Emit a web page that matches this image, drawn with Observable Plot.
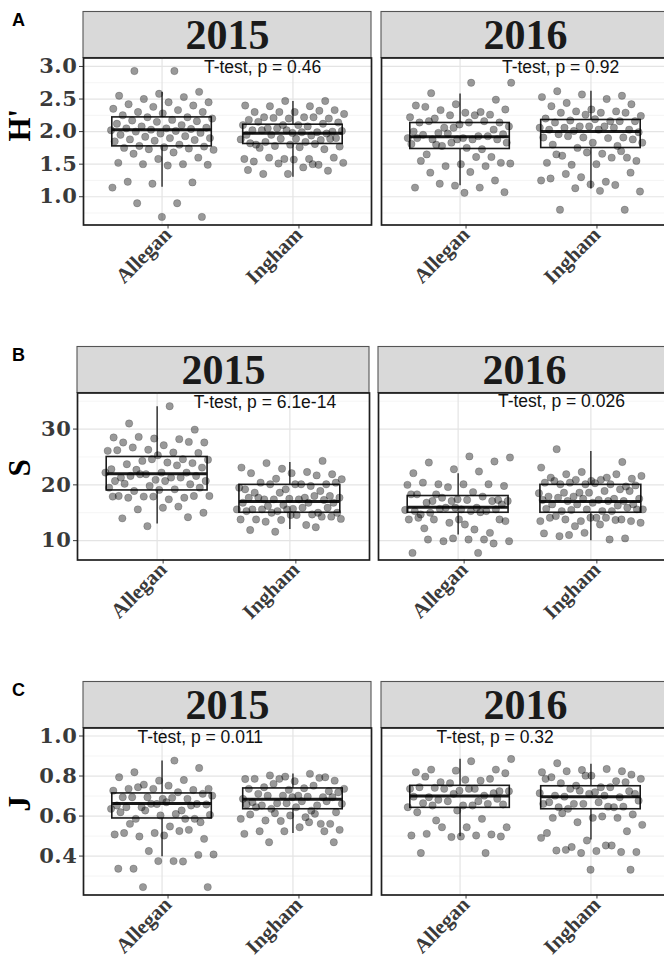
<!DOCTYPE html>
<html><head><meta charset="utf-8">
<script src="https://cdn.jsdelivr.net/npm/d3@7"></script>
<script src="https://cdn.jsdelivr.net/npm/@observablehq/plot@0.6"></script>
<style>
html,body{margin:0;padding:0;background:#fff;overflow:hidden;width:664px;height:958px}
#root{position:relative;width:664px;height:958px;overflow:hidden;background:#fff}
.row{position:absolute;left:0;width:680px;height:335px}
.tag{position:absolute;left:12px;font:bold 18px/18px "Liberation Sans",Arial,sans-serif;color:#000}
g[aria-label="y-axis tick label"] text{letter-spacing:0.6px}
</style></head><body><div id="root"></div><script>
// ---------- data ----------
const years = ["2015", "2016"];
const counties = ["Allegan", "Ingham"];
const groups = [["2015","Allegan"],["2015","Ingham"],["2016","Allegan"],["2016","Ingham"]];

// Shannon diversity H'
const H_2015_Allegan = [2.93,2.93,2.61,2.58,2.55,2.53,2.50,2.45,2.45,2.42,2.40,2.38,2.35,2.33,2.30,2.30,2.28,2.25,2.22,2.22,2.20,2.18,2.17,2.16,2.15,2.12,2.10,2.08,2.06,2.05,2.05,2.04,2.03,2.02,2.01,2.00,1.98,1.97,1.95,1.93,1.92,1.90,1.90,1.88,1.87,1.86,1.85,1.80,1.78,1.77,1.76,1.75,1.74,1.73,1.72,1.68,1.66,1.60,1.58,1.52,1.50,1.50,1.49,1.48,1.23,1.22,1.20,1.14,0.90,0.90,0.69,0.69];
const H_2015_Ingham = [2.47,2.47,2.40,2.39,2.39,2.33,2.30,2.30,2.32,2.30,2.27,2.22,2.22,2.20,2.20,2.18,2.22,2.21,2.14,2.10,2.15,2.12,2.10,2.10,2.08,2.05,2.00,1.98,2.02,1.99,2.05,2.01,1.99,2.02,1.97,2.02,1.95,1.94,1.95,1.90,1.89,1.80,1.87,1.89,1.88,1.84,1.84,1.89,1.80,1.82,1.81,1.78,1.77,1.76,1.75,1.73,1.58,1.58,1.58,1.60,1.60,1.57,1.54,1.49,1.51,1.52,1.45,1.35,1.40,1.35,1.41,1.50];
const H_2016_Allegan = [2.75,2.75,2.59,2.49,2.42,2.40,2.30,2.33,2.34,2.29,2.38,2.26,2.25,2.22,2.25,2.20,2.14,2.11,2.14,2.16,2.06,2.08,2.14,2.16,2.03,2.06,2.00,1.93,1.98,1.96,1.90,1.95,1.93,1.97,1.90,1.88,1.88,1.88,1.88,1.90,1.73,1.78,1.83,1.75,1.65,1.61,1.83,1.81,1.61,1.80,1.52,1.50,1.55,1.47,1.47,1.51,1.38,1.37,1.25,1.17,1.14,1.14,1.20,1.07,1.06];
const H_2016_Ingham = [2.62,2.55,2.57,2.53,2.50,2.44,2.42,2.34,2.39,2.31,2.31,2.24,2.29,2.29,2.29,2.26,2.20,2.16,2.17,2.16,2.19,2.14,2.16,2.08,2.06,2.08,2.06,2.03,2.08,2.03,2.06,2.01,1.99,2.03,1.96,1.91,1.91,1.91,1.90,1.93,1.88,1.83,1.80,1.78,1.75,1.83,1.66,1.63,1.60,1.68,1.52,1.60,1.49,1.55,1.50,1.65,1.70,1.30,1.25,1.23,1.35,1.37,1.19,1.28,1.18,1.13,1.08,1.09,0.80,0.80];
const H_lo  = [1.144, 1.30, 1.17, 1.12];
const H_q1  = [1.773, 1.81, 1.733, 1.748];
const H_med = [2.03, 1.973, 1.922, 2.00];
const H_q3  = [2.218, 2.106, 2.132, 2.178];
const H_hi  = [2.60, 2.463, 2.577, 2.62];
const H_ticks = [1.0, 1.5, 2.0, 2.5, 3.0];
const H_minor = [0.75, 1.25, 1.75, 2.25, 2.75];
const H_domain = [0.566, 3.13];
const H_pText = ["T-test, p = 0.46", "T-test, p = 0.92"];

// Richness S
const S_2015_Allegan = [34.1,31.0,29.9,28.3,28.5,28.2,28.6,27.6,27.1,27.6,27.7,26.3,26.1,25.8,26.7,25.7,25.3,26.2,24.6,24.3,24.5,24.0,23.7,23.9,24.6,22.8,23.5,22.7,23.1,22.2,21.3,22.2,21.9,22.2,21.3,21.6,21.6,20.9,20.7,21.3,21.9,20.7,20.7,20.2,20.1,19.8,19.5,19.2,18.9,19.5,19.1,18.0,17.7,17.9,18.0,17.4,17.7,18.0,17.9,17.9,16.1,15.6,15.0,15.9,14.0,14.2,12.6];
const S_2015_Ingham = [24.3,22.9,23.1,22.3,23.9,21.9,22.1,22.1,21.7,21.1,21.0,20.1,20.4,20.1,19.2,19.2,19.8,20.1,20.4,20.1,18.6,18.9,18.6,19.5,17.7,17.4,18.0,17.5,17.7,18.0,17.4,17.7,17.4,17.7,17.3,16.4,16.8,16.8,16.2,16.8,15.7,15.6,15.0,15.3,15.6,15.9,15.6,15.9,15.6,15.3,14.7,15.0,15.0,14.6,13.8,14.3,13.7,13.8,12.8,13.4,14.3,14.6,11.9,12.4,11.6,13.9];
const S_2016_Allegan = [24.9,25.1,24.0,24.2,22.8,22.1,22.4,20.1,19.8,20.1,20.4,20.1,19.6,20.0,18.7,17.1,17.3,17.4,18.3,17.9,17.7,17.1,17.3,16.8,17.1,17.1,18.3,15.9,18.3,16.5,15.6,14.7,15.3,15.9,15.5,15.3,15.0,15.6,15.9,15.3,15.1,15.7,13.5,12.9,12.2,11.4,13.2,13.8,12.0,13.8,13.8,13.8,14.1,10.2,9.9,9.9,10.2,10.2,9.5,10.4,7.8,7.8];
const S_2016_Ingham = [26.4,24.1,22.3,23.1,21.3,21.9,21.1,20.7,21.3,21.9,20.9,21.6,20.9,20.1,19.7,20.1,20.4,20.1,20.4,19.9,20.3,20.7,19.2,18.6,18.5,18.9,18.6,18.9,18.6,17.9,17.5,17.9,17.5,17.3,17.7,17.1,17.5,17.3,17.1,17.1,16.5,16.8,16.5,16.3,16.5,15.6,15.3,15.3,15.9,15.6,15.7,15.3,15.5,15.6,14.1,14.4,13.8,13.5,13.5,14.1,13.8,13.5,14.1,14.1,13.7,12.6,13.2,12.9,10.8,10.4,11.4,11.3,10.2,11.0];
const S_lo  = [13, 12, 11, 10];
const S_q1  = [19, 15, 15, 15];
const S_med = [22, 17, 16, 17];
const S_q3  = [25, 20, 18, 20];
const S_hi  = [34, 24, 22, 26];
const S_ticks = [10, 20, 30];
const S_minor = [15, 25, 35];
const S_domain = [6.53, 36.47];
const S_pText = ["T-test, p = 6.1e-14", "T-test, p = 0.026"];

// Evenness J
const J_2015_Allegan = [0.877,0.819,0.840,0.777,0.794,0.780,0.757,0.736,0.752,0.736,0.730,0.736,0.727,0.719,0.744,0.711,0.686,0.694,0.686,0.694,0.702,0.691,0.694,0.660,0.660,0.653,0.628,0.644,0.658,0.669,0.644,0.653,0.661,0.636,0.610,0.586,0.569,0.603,0.619,0.586,0.628,0.606,0.548,0.561,0.586,0.515,0.508,0.525,0.498,0.486,0.503,0.515,0.531,0.425,0.408,0.375,0.337,0.406,0.375,0.337,0.373,0.245,0.245];
const J_2015_Ingham = [0.794,0.797,0.785,0.811,0.803,0.777,0.774,0.786,0.791,0.786,0.736,0.739,0.744,0.724,0.731,0.736,0.752,0.761,0.719,0.702,0.711,0.694,0.702,0.686,0.697,0.702,0.694,0.694,0.669,0.653,0.664,0.661,0.674,0.653,0.674,0.664,0.658,0.627,0.636,0.619,0.644,0.644,0.561,0.575,0.586,0.594,0.578,0.561,0.603,0.608,0.611,0.614,0.531,0.544,0.524,0.524,0.524,0.511,0.569,0.469,0.469];
const J_2016_Allegan = [0.885,0.874,0.832,0.832,0.827,0.819,0.777,0.769,0.814,0.781,0.797,0.786,0.764,0.736,0.736,0.741,0.724,0.727,0.744,0.702,0.736,0.724,0.736,0.694,0.714,0.711,0.697,0.674,0.681,0.658,0.653,0.664,0.661,0.674,0.644,0.653,0.653,0.686,0.628,0.619,0.586,0.544,0.544,0.544,0.511,0.508,0.495,0.503,0.503,0.578,0.498,0.498,0.415,0.415];
const J_2016_Ingham = [0.864,0.824,0.830,0.819,0.835,0.824,0.807,0.802,0.794,0.774,0.752,0.786,0.744,0.764,0.769,0.802,0.786,0.744,0.736,0.711,0.719,0.702,0.694,0.727,0.714,0.702,0.697,0.724,0.711,0.669,0.644,0.661,0.677,0.669,0.644,0.647,0.661,0.661,0.647,0.636,0.608,0.591,0.591,0.591,0.569,0.556,0.598,0.614,0.524,0.478,0.515,0.453,0.445,0.420,0.425,0.428,0.420,0.415,0.491,0.453,0.431,0.332,0.332];
const J_lo  = [0.397, 0.513, 0.496, 0.48];
const J_q1  = [0.588, 0.634, 0.641, 0.634];
const J_med = [0.663, 0.684, 0.700, 0.696];
const J_q3  = [0.713, 0.738, 0.751, 0.749];
const J_hi  = [0.875, 0.81, 0.884, 0.859];
const J_ticks = [0.4, 0.6, 0.8, 1.0];
const J_minor = [0.3, 0.5, 0.7, 0.9];
const J_domain = [0.2055, 1.04];
const J_pText = ["T-test, p = 0.011", "T-test, p = 0.32"];

// annotation anchors (data units of each panel)
const H_pPos = [[1.32, 2.985], [1.32, 2.985]];
const S_pPos = [[1.275, 34.85], [1.30, 35.0]];
const J_pPos = [[0.812, 0.995], [0.82, 0.995]];

// ---------- layout ----------
const W = 680, RH = 335, MT = 57.5, PH = 167, STRIP = 46;
const rowsCfg = [
  {tag: "A", top: 0, title: "H'", ml: 83.4, mr: 10.4, pad: 0.033, fmt: d3.format(".1f"),
   values: [[H_2015_Allegan, H_2015_Ingham], [H_2016_Allegan, H_2016_Ingham]],
   lo: H_lo, q1: H_q1, med: H_med, q3: H_q3, hi: H_hi, ticks: H_ticks, minor: H_minor, domain: H_domain, pText: H_pText, pPos: H_pPos},
  {tag: "B", top: 335, title: "S", ml: 77, mr: 10, pad: 0.03, fmt: d3.format("d"),
   values: [[S_2015_Allegan, S_2015_Ingham], [S_2016_Allegan, S_2016_Ingham]],
   lo: S_lo, q1: S_q1, med: S_med, q3: S_q3, hi: S_hi, ticks: S_ticks, minor: S_minor, domain: S_domain, pText: S_pText, pPos: S_pPos},
  {tag: "C", top: 670, title: "J", ml: 83.4, mr: 10.4, pad: 0.033, fmt: d3.format(".1f"),
   values: [[J_2015_Allegan, J_2015_Ingham], [J_2016_Allegan, J_2016_Ingham]],
   lo: J_lo, q1: J_q1, med: J_med, q3: J_q3, hi: J_hi, ticks: J_ticks, minor: J_minor, domain: J_domain, pText: J_pText, pPos: J_pPos}
];

function stripMark(index, scales, values, dims) {
  const r = document.createElementNS("http://www.w3.org/2000/svg", "rect");
  r.setAttribute("x", dims.marginLeft);
  r.setAttribute("y", dims.marginTop - STRIP);
  r.setAttribute("width", dims.width - dims.marginLeft - dims.marginRight);
  r.setAttribute("height", STRIP);
  r.setAttribute("fill", "#d9d9d9");
  r.setAttribute("stroke", "#555");
  r.setAttribute("stroke-width", 1.1);
  return r;
}

const root = document.getElementById("root");
const BW = 0.38;

for (const cfg of rowsCfg) {
  const pts = [];
  years.forEach((yr, yi) => counties.forEach((ct, ci) => {
    cfg.values[yi][ci].forEach((v, i) => pts.push({
      year: yr, xi: ci + 1, value: v,
      jx: (((i + 1) * 0.6180339887 + yi * 0.37 + ci * 0.19) % 1 - 0.5) * 0.8
    }));
  }));
  const boxes = groups.map(([yr, ct], k) => ({
    year: yr, xi: counties.indexOf(ct) + 1,
    lo: cfg.lo[k], q1: cfg.q1[k], med: cfg.med[k], q3: cfg.q3[k], hi: cfg.hi[k]
  }));
  const labels = years.map((yr, k) => ({year: yr, x: cfg.pPos[k][0], y: cfg.pPos[k][1], text: cfg.pText[k]}));

  const chart = Plot.plot({
    width: W, height: RH,
    marginTop: MT, marginBottom: RH - MT - PH, marginLeft: cfg.ml, marginRight: cfg.mr,
    fx: {domain: years, paddingInner: cfg.pad, paddingOuter: 0, axis: null, label: null},
    x: {domain: [0.4, 2.6]},
    y: {domain: cfg.domain},
    style: {fontFamily: "'Liberation Sans', Arial, sans-serif", background: "transparent", overflow: "visible"},
    marks: [
      stripMark,
      Plot.text(years, {fx: d => d, text: d => d, frameAnchor: "top", lineAnchor: "middle", dy: -22, fontSize: 42, fontWeight: "bold", fontFamily: "'Liberation Serif', 'Times New Roman', serif", fill: "#1a1a1a"}),
      Plot.gridY(cfg.minor, {stroke: "#efefef", strokeWidth: 0.6, strokeOpacity: 1}),
      Plot.gridY(cfg.ticks, {stroke: "#e4e4e4", strokeWidth: 1.2, strokeOpacity: 1}),
      Plot.gridX([1, 2], {stroke: "#e4e4e4", strokeWidth: 1.2, strokeOpacity: 1}),
      Plot.ruleX(boxes, {fx: "year", x: "xi", y1: "lo", y2: "q1", stroke: "#1a1a1a", strokeWidth: 1.3}),
      Plot.ruleX(boxes, {fx: "year", x: "xi", y1: "q3", y2: "hi", stroke: "#1a1a1a", strokeWidth: 1.3}),
      Plot.rect(boxes, {fx: "year", x1: d => d.xi - BW, x2: d => d.xi + BW, y1: "q1", y2: "q3", fill: "none", stroke: "#1a1a1a", strokeWidth: 1.6}),
      Plot.ruleY(boxes, {fx: "year", x1: d => d.xi - BW, x2: d => d.xi + BW, y: "med", stroke: "#1a1a1a", strokeWidth: 3}),
      Plot.dot(pts, {fx: "year", x: d => d.xi + d.jx, y: "value", r: 3.7, fill: "#000", fillOpacity: 0.4, stroke: "#000", strokeOpacity: 0.3, strokeWidth: 0.6}),
      Plot.text(labels, {fx: "year", x: "x", y: "y", text: "text", textAnchor: "start", fontSize: 17.5, fontFamily: "'Liberation Sans', Arial, sans-serif", fill: "#111"}),
      Plot.axisY(cfg.ticks, {tickFormat: cfg.fmt, tickSize: 4, tickPadding: 2, fontSize: 21, fontFamily: "'DejaVu Serif', serif", fontWeight: "bold", color: "#3a3a3a", label: null}),
      Plot.axisX([1, 2], {tickFormat: d => counties[d - 1], tickRotate: -45, tickSize: 4, tickPadding: 2, dx: 6, fontSize: 21, fontFamily: "'Liberation Serif', 'Times New Roman', serif", fontWeight: "bold", color: "#3a3a3a", label: null}),
      Plot.text([{year: "2015", t: cfg.title}], {fx: "year", text: "t", frameAnchor: "left", rotate: -90, dx: -(cfg.ml - 20), fontSize: 31, fontWeight: "bold", fontFamily: "'Liberation Serif', 'Times New Roman', serif", fill: "#000"}),
      Plot.frame({stroke: "#1f1f1f", strokeWidth: 1.7})
    ]
  });
  const div = document.createElement("div");
  div.className = "row";
  div.style.top = cfg.top + "px";
  div.appendChild(chart);
  root.appendChild(div);
  const tag = document.createElement("div");
  tag.className = "tag";
  tag.style.top = (cfg.top + 11) + "px";
  tag.textContent = cfg.tag;
  root.appendChild(tag);
}
</script></body></html>
